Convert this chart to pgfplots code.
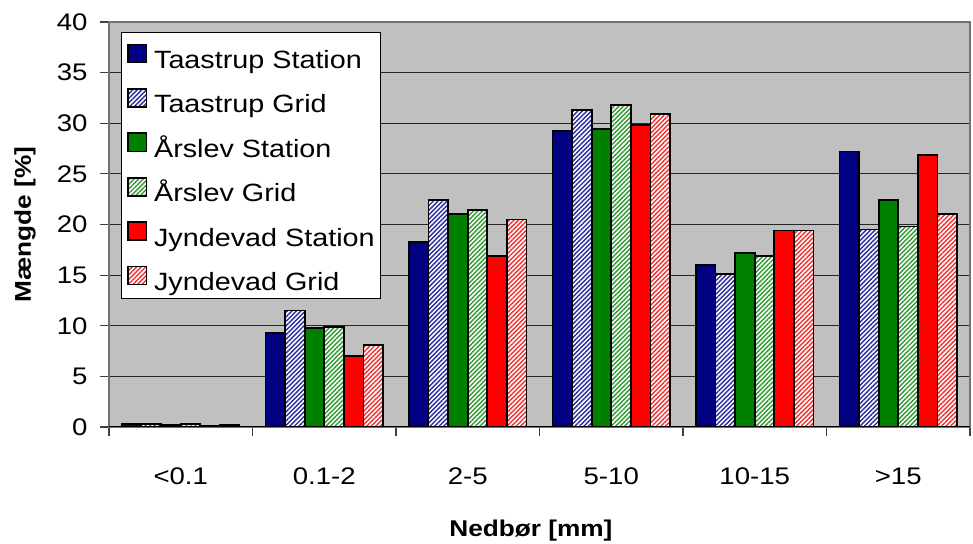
\documentclass[border=0pt]{standalone}
\usepackage{fontspec}
\setmainfont{Liberation Sans}[FakeStretch=1.15]
\usepackage{pgfplots}
\pgfplotsset{compat=1.18}
\usetikzlibrary{patterns.meta}

\definecolor{tnavy}{HTML}{000080}
\definecolor{tnavyhatch}{HTML}{2A2AA0}
\definecolor{agreen}{HTML}{008000}
\definecolor{agreenhatch}{HTML}{2E9A2E}
\definecolor{jred}{HTML}{FF0000}
\definecolor{jredhatch}{HTML}{F03030}
\definecolor{plotbg}{HTML}{C0C0C0}

% Share of precipitation per intensity class [%]
% TS/TG = Taastrup station/grid, AS/AG = Aarslev, JS/JG = Jyndevad
\pgfplotstableread{
cat TS   TG   AS   AG   JS   JG
0   0.3  0.3  0.2  0.3  0.1  0.2
1   9.3  11.5 9.8  9.9  7.0  8.1
2   18.3 22.4 21.0 21.4 16.9 20.5
3   29.2 31.3 29.4 31.8 29.8 30.9
4   16.0 15.1 17.2 16.9 19.4 19.4
5   27.2 19.5 22.4 19.8 26.9 21.0
}\rain

\tikzset{
  hatched/.style={fill=white,
    postaction={pattern={Lines[angle=45,distance=1.6pt,line width=0.7pt]},
                pattern color=#1}},
}

\begin{document}
\begin{tikzpicture}
\useasboundingbox (-54.5pt,-58.5pt) rectangle (432pt,213.5pt);
\begin{axis}[
  scale only axis, width=430.5pt, height=202.5pt,
  ybar=0pt, bar width=9.8pt,
  legend image code/.code={\draw[#1, line width=0.8pt] (0pt,-4pt) rectangle (9pt,5pt);},
  xmin=-0.5, xmax=5.5, ymin=0, ymax=40,
  ytick={0,5,...,40},
  xtick={-0.5,0.5,...,5.5}, xticklabels={},
  extra x ticks={0,1,2,3,4,5},
  extra x tick labels={<0.1,0.1-2,2-5,5-10,10-15,>15},
  extra x tick style={major tick length=0pt},
  xtick pos=bottom, ytick pos=left,
  tick align=outside, major tick length=4.5pt,
  tick style={black!75, line width=0.6pt},
  ymajorgrids, grid style={black!85, line width=0.5pt},
  axis background/.style={fill=plotbg},
  axis line style={black!55, line width=1pt},
  /pgf/number format/assume math mode=true,
  tick label style={font=\fontsize{12}{14}\selectfont},
  xticklabel style={anchor=base, inner sep=0pt, yshift=-28.75pt},
  yticklabel style={anchor=east, inner sep=0pt, xshift=-6pt},
  xlabel={Nedbør [mm]},
  ylabel={Mængde [\%]},
  label style={font=\fontsize{11.4}{13}\selectfont\bfseries},
  xlabel style={at={(axis description cs:0.49,0)}, anchor=base, yshift=-55pt},
  ylabel style={at={(axis description cs:-0.0906,0.5)}, anchor=base},
  legend cell align=left,
  legend style={at={(axis description cs:0,1)}, anchor=north west,
    xshift=6pt, yshift=-5pt, draw=black, line width=0.5pt, fill=white,
    inner xsep=3pt, inner ysep=2pt, row sep=4.2pt,
    /tikz/column sep=3.5pt,
    font=\fontsize{12.5}{14}\selectfont,
    nodes={inner sep=0pt, text height=16pt, text depth=2pt}},
  every axis plot/.append style={draw=black, line width=0.9pt},
]
\addplot[fill=tnavy] table[x=cat, y=TS] {\rain};
\addplot[hatched=tnavyhatch] table[x=cat, y=TG] {\rain};
\addplot[fill=agreen] table[x=cat, y=AS] {\rain};
\addplot[hatched=agreenhatch] table[x=cat, y=AG] {\rain};
\addplot[fill=jred] table[x=cat, y=JS] {\rain};
\addplot[hatched=jredhatch] table[x=cat, y=JG] {\rain};
\legend{Taastrup Station, Taastrup Grid, Årslev Station, Årslev Grid, Jyndevad Station, Jyndevad Grid}
\draw[black, line width=0.8pt] (rel axis cs:0,0) -- (rel axis cs:1,0);
\end{axis}
\end{tikzpicture}
\end{document}
